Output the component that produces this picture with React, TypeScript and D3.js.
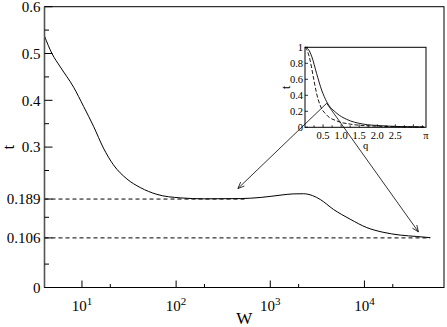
import * as d3 from 'd3';

// main curve: W vs t
const mainW = [4, 4.8, 5.9, 8.15, 10.4, 13.3, 16.9, 21.6, 30, 41.6, 62.5, 111, 200, 480, 800, 1300, 1750, 2250, 2800, 3400, 4680, 7050, 10600, 15800, 24000, 36000, 50000];
const mainT = [0.537, 0.5, 0.471, 0.428, 0.387, 0.344, 0.298, 0.262, 0.232, 0.2136, 0.199, 0.1915, 0.1895, 0.19, 0.1925, 0.1975, 0.2, 0.2003, 0.1965, 0.188, 0.167, 0.146, 0.128, 0.118, 0.112, 0.109, 0.1065];

// reference levels (dashed)
const levels = [0.189, 0.106];
const levelEnds = [550, 50000];

// axis ticks
const yMajor = [0, 0.106, 0.189, 0.3, 0.4, 0.5, 0.6];
const yMajorLabels = ['0', '0.106', '0.189', '0.3', '0.4', '0.5', '0.6'];
const yMinor = [0.05, 0.15, 0.25, 0.35, 0.45, 0.55];
const xDecades = [1, 2, 3, 4];

// inset: q vs t, solid and dashed
const insetSolidQ = [0, 0.1, 0.19, 0.32, 0.46, 0.6, 0.88, 1.15, 1.6, 2.1, 2.6, 3.3];
const insetSolidT = [1, 0.97, 0.88, 0.675, 0.466, 0.32, 0.175, 0.1, 0.041, 0.02, 0.01, 0.004];
const insetDashQ = [0, 0.07, 0.14, 0.23, 0.32, 0.415, 0.6, 0.88, 1.25, 1.7, 2.5, 3.3];
const insetDashT = [1, 0.95, 0.84, 0.63, 0.425, 0.28, 0.154, 0.079, 0.04, 0.02, 0.008, 0.003];
const insetXTicks = [0.5, 1.0, 1.5, 2.0, 2.5];
const insetYTicks = [0, 0.2, 0.4, 0.6, 0.8, 1];
const insetYLabels = ['0', '0.2', '0.4', '0.6', '0.8', '1'];

// arrows: from inset point (q, t) to main point (W, t)
const arrowFrom = [0.6, 0.3];
const arrowTargets = [
  [453, 0.2115],
  [37400, 0.119],
];

const font = "'Liberation Serif', 'Times New Roman', Times, 'DejaVu Serif', serif";

function arrowHead(x1, y1, x2, y2, len = 7, ang = 0.4) {
  const a = Math.atan2(y2 - y1, x2 - x1);
  const p1 = [x2 - len * Math.cos(a - ang), y2 - len * Math.sin(a - ang)];
  const p2 = [x2 - len * Math.cos(a + ang), y2 - len * Math.sin(a + ang)];
  return `M${p1[0]},${p1[1]}L${x2},${y2}L${p2[0]},${p2[1]}`;
}

export default function App() {
  const left = 44.5, right = 444, top = 6.7, bottom = 287.5;
  const x = d3.scaleLog().domain([4, 70000]).range([left, right]);
  const y = d3.scaleLinear().domain([0, 0.6]).range([bottom, top]);

  const mainLine = d3.line<number>()
    .x((d, i) => x(mainW[i]))
    .y((d) => y(d))
    .curve(d3.curveMonotoneX);

  // inset
  const iL = 305, iR = 426, iT = 47.3, iB = 127.3;
  const ix = d3.scaleLinear().domain([0, 3.35]).range([iL, iR]);
  const iy = d3.scaleLinear().domain([0, 1]).range([iB, iT]);
  const solidLine = d3.line<number>().x((d, i) => ix(insetSolidQ[i])).y((d) => iy(d)).curve(d3.curveMonotoneX);
  const dashLine = d3.line<number>().x((d, i) => ix(insetDashQ[i])).y((d) => iy(d)).curve(d3.curveMonotoneX);

  const ax = ix(arrowFrom[0]);
  const ay = iy(arrowFrom[1]);

  const xMinor = xDecades.map((p) => 2 * Math.pow(10, p));

  return (
    <svg width={447} height={327} style={{ position: 'absolute', left: 0, top: 0, background: '#fff' }}>
      <g style={{ fontFamily: font }} fontFamily={font}>
        {/* dashed reference levels */}
        {levels.map((lv, i) => (
          <line key={i} x1={left} x2={x(levelEnds[i])} y1={y(lv)} y2={y(lv)} stroke="#000" strokeWidth={1} strokeDasharray="4,3" />
        ))}
        <path d={mainLine(mainT) || ''} fill="none" stroke="#000" strokeWidth={1} />

        {/* frame */}
        <rect x={left} y={top} width={right - left} height={bottom - top} fill="none" stroke="#000" strokeWidth={1} />
        <line x1={left} x2={left} y1={top} y2={bottom} stroke="#555" strokeWidth={1.6} />

        {/* y ticks */}
        {yMajor.map((v, i) => (
          <g key={'ym' + i}>
            <line x1={left} x2={left + 8} y1={y(v)} y2={y(v)} stroke="#000" />
            <text x={left - 4} y={y(v)} dy="0.35em" textAnchor="end" fontSize={15}>{yMajorLabels[i]}</text>
          </g>
        ))}
        {yMinor.map((v, i) => (
          <line key={'yn' + i} x1={left} x2={left + 4.5} y1={y(v)} y2={y(v)} stroke="#000" />
        ))}

        {/* x ticks */}
        {xDecades.map((p) => (
          <g key={'xm' + p}>
            <line x1={x(Math.pow(10, p))} x2={x(Math.pow(10, p))} y1={bottom} y2={bottom - 7} stroke="#000" />
            <text x={x(Math.pow(10, p))} y={bottom + 23} textAnchor="middle" fontSize={15}>
              10<tspan fontSize={11} dy={-6}>{p}</tspan>
            </text>
          </g>
        ))}
        {xMinor.map((v, i) => (
          <line key={'xn' + i} x1={x(v)} x2={x(v)} y1={bottom} y2={bottom - 3.5} stroke="#000" />
        ))}

        <text x={(left + right) / 2} y={324} textAnchor="middle" fontSize={17}>W</text>
        <text transform={`translate(14,${(top + bottom) / 2}) rotate(-90)`} textAnchor="middle" fontSize={17}>t</text>

        {/* inset */}
        <rect x={iL} y={iT} width={iR - iL} height={iB - iT} fill="#fff" stroke="#000" strokeWidth={1} />
        <path d={dashLine(insetDashT) || ''} fill="none" stroke="#000" strokeWidth={0.9} strokeDasharray="4,2" />
        <path d={solidLine(insetSolidT) || ''} fill="none" stroke="#000" strokeWidth={0.9} />
        {insetYTicks.map((v, i) => (
          <g key={'iy' + i}>
            <line x1={iL} x2={iL + 3} y1={iy(v)} y2={iy(v)} stroke="#000" strokeWidth={0.8} />
            <text x={iL - 2} y={iy(v)} dy="0.35em" textAnchor="end" fontSize={10.5}>{insetYLabels[i]}</text>
          </g>
        ))}
        {d3.range(0.25, 3.3, 0.25).map((v, i) => (
          <line key={'ixn' + i} x1={ix(v)} x2={ix(v)} y1={iB} y2={iB - (i % 2 === 1 ? 3 : 2)} stroke="#000" strokeWidth={0.8} />
        ))}
        {insetXTicks.map((v, i) => (
          <text key={'ixl' + i} x={ix(v)} y={iB + 12} textAnchor="middle" fontSize={10.5}>{v.toFixed(1)}</text>
        ))}
        <text x={iR} y={iB + 12} textAnchor="middle" fontSize={10.5}>π</text>
        <text x={(iL + iR) / 2} y={iB + 22} textAnchor="middle" fontSize={10.5}>q</text>
        <text transform={`translate(290,${(iT + iB) / 2}) rotate(-90)`} textAnchor="middle" fontSize={12}>t</text>

        {/* arrows */}
        {arrowTargets.map((tg, i) => {
          const tx = x(tg[0]);
          const ty = y(tg[1]);
          return (
            <g key={'ar' + i} stroke="#000" strokeWidth={0.8} fill="none">
              <line x1={ax} y1={ay} x2={tx} y2={ty} />
              <path d={arrowHead(ax, ay, tx, ty)} />
            </g>
          );
        })}
      </g>
    </svg>
  );
}
